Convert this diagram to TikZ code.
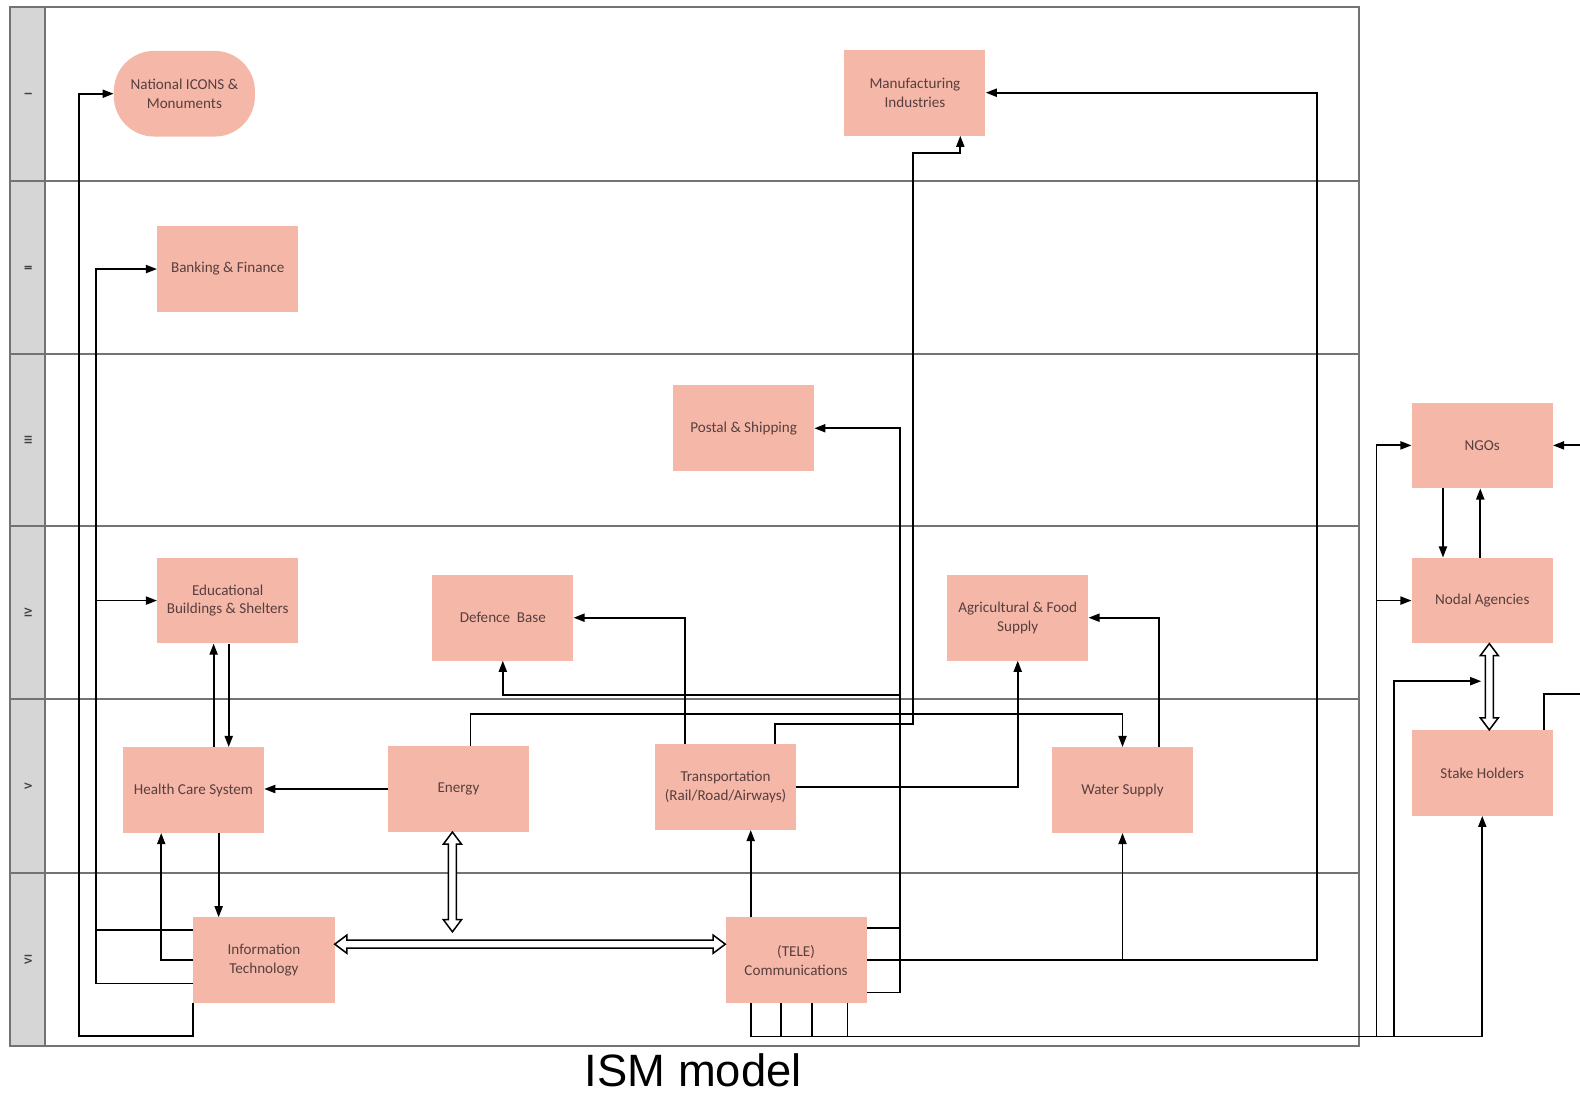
\documentclass[tikz,border=0pt]{standalone}
\usepackage{fontspec}
\setmainfont{Carlito}
\newfontfamily\capfont{Liberation Sans}
\usetikzlibrary{arrows.meta,calc}

\definecolor{boxfill}{RGB}{245,184,168}
\definecolor{boxtext}{RGB}{88,62,62}
\definecolor{lanegray}{RGB}{214,214,214}
\definecolor{frameline}{RGB}{115,115,115}

% hollow double-headed arrows (horizontal and vertical)
\newcommand\hollowH[2]{\draw[hollow] let \p1=#1, \p2=#2 in
  (\x1,\y1) -- (\x1+12pt,\y1+9pt) -- (\x1+12pt,\y1+4pt) -- (\x2-12pt,\y1+4pt)
  -- (\x2-12pt,\y1+9pt) -- (\x2,\y1) -- (\x2-12pt,\y1-9pt) -- (\x2-12pt,\y1-4pt)
  -- (\x1+12pt,\y1-4pt) -- (\x1+12pt,\y1-9pt) -- cycle;}
\newcommand\hollowV[2]{\draw[hollow] let \p1=#1, \p2=#2 in
  (\x1,\y1) -- (\x1+9pt,\y1-12pt) -- (\x1+4pt,\y1-12pt) -- (\x1+4pt,\y2+12pt)
  -- (\x1+9pt,\y2+12pt) -- (\x1,\y2) -- (\x1-9pt,\y2+12pt) -- (\x1-4pt,\y2+12pt)
  -- (\x1-4pt,\y1-12pt) -- (\x1-9pt,\y1-12pt) -- cycle;}

\begin{document}
\begin{tikzpicture}[x=1pt,y=-1pt,
  box/.style={fill=boxfill, minimum width=140pt, minimum height=85pt, align=center,
    text=boxtext, font=\fontsize{15}{18.5}\selectfont, inner sep=2pt},
  plain/.style={draw=black, line width=1.8pt},
  conn/.style={plain, -{Triangle[length=11pt,width=8pt]}},
  hollow/.style={draw=black, fill=white, line width=1.5pt, line join=miter},
  lanelbl/.style={rotate=90, text=black!75, font=\bfseries\fontsize{11}{13}\selectfont},
  lane/.style={draw=frameline, line width=1.8pt}]

\useasboundingbox (0,0) rectangle (1568,1085);

% swimlane frame
\fill[lanegray] (10,7) rectangle (45,1038);
\draw[lane] (10,7) rectangle (1349,1038);
\draw[lane] (45,7) -- (45,1038);
\foreach \yy in {180,351,522,694,866} \draw[lane] (10,\yy) -- (1349,\yy);

\node[lanelbl] (l1) at (28,93)  {I};
\node[lanelbl] (l2) at (28,266) {II};
\node[lanelbl] (l3) at (28,437) {III};
\node[lanelbl] (l4) at (28,608) {IV};
\node[lanelbl] (l5) at (28,780) {V};
\node[lanelbl] (l6) at (28,952) {VI};

% elements
\node[box, rounded corners=40pt] (icons) at (183,93) {National ICONS \&\\Monuments};
\node[box] (manu)   at (908,92)   {Manufacturing\\Industries};
\node[box] (bank)   at (226,267)  {Banking \& Finance};
\node[box] (postal) at (738,425)  {Postal \& Shipping};
\node[box] (edu)    at (226,596)  {Educational\\Buildings \& Shelters};
\node[box] (def)    at (499,613)  {Defence~~Base};
\node[box] (agri)   at (1010,613) {Agricultural \& Food\\Supply};
\node[box] (hcs)    at (192,784)  {Health Care System};
\node[box] (energy) at (455,783)  {Energy};
\node[box] (trans)  at (720,781)  {Transportation\\(Rail/Road/Airways)};
\node[box] (water)  at (1114,784) {Water Supply};
\node[box] (it)     at (262,953)  {Information\\Technology};
\node[box] (tele)   at (790,953)  {(TELE)\\Communications};
\node[box] (ngo)    at (1471,442) {NGOs};
\node[box] (nodal)  at (1471,596) {Nodal Agencies};
\node[box] (stake)  at (1471,767) {Stake Holders};

% junction points of the connector runs
\coordinate (jdef)  at (893,690);
\coordinate (jngo)  at (1366,1028);
\coordinate (jnod)  at (1366,596);
\coordinate (jhol)  at (1383,1028);
\coordinate (thol)  at (1470,676);
\coordinate (offR1) at (1568,442);
\coordinate (offR2) at (1568,689);

% Information Technology
\draw[conn] (it.south west) |- (78,1028) |- (icons.west);
\draw[conn] ($(it.west)+(0,23)$) -- (95,976) |- (bank.west);
\draw[conn] ($(it.west)+(0,-30)$) -- (95,923) |- (edu.west);
\draw[conn] (it.west) -| ($(hcs.south)+(-32,0)$);
\draw[conn] ($(hcs.south)+(25,0)$) -- ($(it.north)+(-45,0)$);

% Health care / education
\draw[conn] ($(hcs.north)+(20,0)$) -- ($(edu.south)+(-14,0)$);
\draw[conn] ($(edu.south)+(1,0)$) -- ($(hcs.north)+(35,0)$);

% Energy
\draw[conn] (energy.west) -- (hcs.east |- energy.west);
\draw[conn] ($(energy.north)+(12,0)$) -- ++(0,-32) -| (water.north);

% Transportation
\draw[conn] ($(trans.north)+(-40,0)$) |- (def.east);
\draw[conn] ($(trans.north)+(49,0)$) -- ++(0,-20) -| (906,152) -| ($(manu.south)+(45,0)$);
\draw[conn] (trans.east) -| (agri.south);

% Water supply
\draw[conn] ($(water.north)+(36,0)$) |- (agri.east);

% (TELE) Communications
\draw[conn] ($(tele.north)+(-45,0)$) -- ($(trans.south)+(25,0)$);
\draw[plain] ($(tele.east)+(0,-32)$) -- (893,921);
\draw[conn] ($(tele.east)+(0,32)$) -| (893,425) -- (postal.east);
\draw[conn] (jdef) -| (def.south);
\draw[conn] (tele.east) -| (1307,92) -- (manu.east);
\draw[conn] (water.south |- tele.east) -- (water.south);
\draw[conn] ($(tele.south)+(-45,0)$) |- ($(stake.south)+(0,219)$) -- (stake.south);
\foreach \dx in {-15,16,51} \draw[plain] ($(tele.south)+(\dx,0)$) -- ++(0,33);

% agencies column
\draw[conn] (jngo) |- (ngo.west);
\draw[conn] (jnod) -- (nodal.west);
\draw[conn] (jhol) |- (thol);
\draw[conn] ($(ngo.south)+(-39,0)$) -- ($(nodal.north)+(-39,0)$);
\draw[conn] ($(nodal.north)+(-2,0)$) -- ($(ngo.south)+(-2,0)$);
\draw[conn] (offR1) -- (ngo.east);
\draw[plain] ($(stake.north)+(61,0)$) |- (offR2);

% hollow two-way links
\hollowH{($(it.east)+(0,-16)$)}{($(tele.west)+(0,-16)$)}
\hollowV{($(energy.south)+(-6,0)$)}{($(energy.south)+(-6,99)$)}
\hollowV{($(nodal.south)+(7,0)$)}{($(stake.north)+(7,0)$)}

% caption
\node[font=\capfont\fontsize{45}{48}\selectfont] (cap) at (688,1062) {ISM model};
\end{tikzpicture}
\end{document}
